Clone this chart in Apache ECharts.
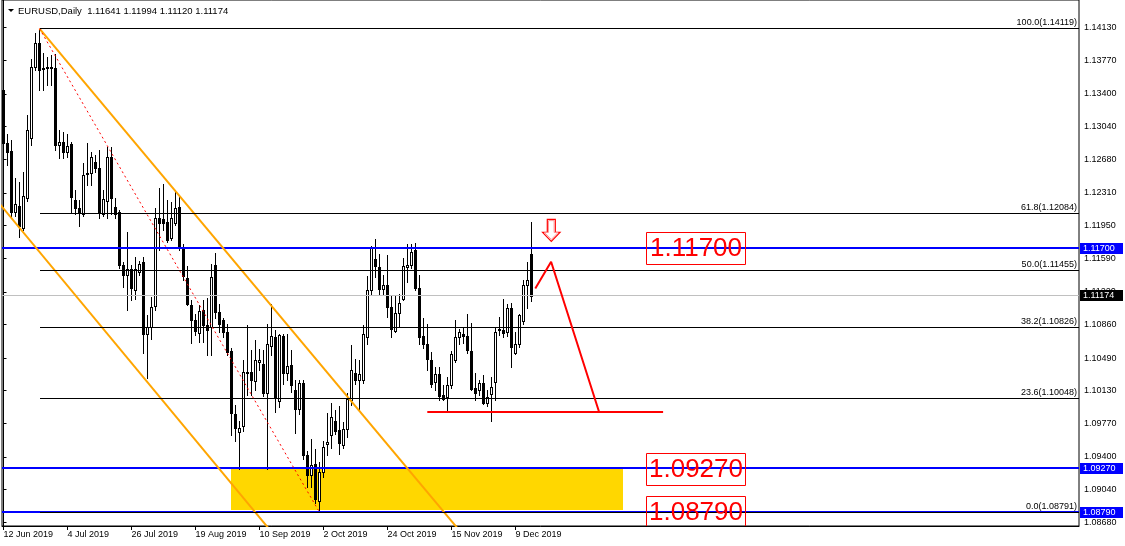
<!DOCTYPE html>
<html><head><meta charset="utf-8">
<script src="https://cdn.jsdelivr.net/npm/echarts@6/dist/echarts.min.js"></script>
<style>html,body{margin:0;padding:0;background:#fff}#c{width:1125px;height:546px}</style>
</head><body><div id="c"></div>
<script>
// ---- DATA (EURUSD daily, 12 Jun 2019 .. 13 Dec 2019, bar index 0..132) ----
const opens = [
1.1344,1.1286,1.1277,1.1210,1.1216,1.1192,1.1225,1.1291,1.1370,1.1396,
1.1368,1.1368,1.1370,1.1368,1.1284,1.1287,1.1276,1.1285,1.1223,1.1214,
1.1208,1.1252,1.1253,1.1265,1.1258,1.1208,1.1222,1.1271,1.1215,1.1210,
1.1151,1.1140,1.1147,1.1124,1.1144,1.1155,1.1076,1.1083,1.1106,1.1203,
1.1202,1.1199,1.1181,1.1198,1.1215,1.1171,1.1137,1.1107,1.1091,1.1077,
1.1102,1.1085,1.1083,1.1151,1.1100,1.1091,1.1078,1.1057,1.0987,1.0967,
1.0974,1.1034,1.1034,1.1024,1.1045,1.1042,1.1010,1.1062,1.1072,1.1002,
1.1073,1.1032,1.1041,1.1014,1.0993,1.1022,1.0942,1.0920,1.0932,1.0891,
1.0923,1.0954,1.0964,1.0980,1.0970,1.0953,1.0971,1.1003,1.1032,1.1025,
1.1025,1.1072,1.1124,1.1158,1.1149,1.1125,1.1130,1.1105,1.1079,1.1099,
1.1114,1.1149,1.1151,1.1168,1.1126,1.1073,1.1065,1.1047,1.1023,1.1031,
1.1008,1.1006,1.1019,1.1047,1.1072,1.1075,1.1073,1.1057,1.1016,1.1014,
1.1021,1.1000,1.1009,1.1023,1.1080,1.1080,1.1078,1.1104,1.1055,1.1064,
1.1090,1.1130,1.11641];
const highs = [
1.1350,1.1296,1.1289,1.1247,1.1243,1.1254,1.1317,1.1378,1.1407,1.14119,
1.1385,1.1381,1.1383,1.1384,1.1300,1.1298,1.1296,1.1287,1.1234,1.1223,
1.1264,1.1286,1.1276,1.1273,1.1278,1.1234,1.1282,1.1282,1.1225,1.1212,
1.1155,1.1188,1.1151,1.1160,1.1156,1.1160,1.1096,1.1116,1.1214,1.1236,
1.1241,1.1223,1.1221,1.1234,1.1229,1.1175,1.1150,1.1113,1.1098,1.1107,
1.1113,1.1115,1.1153,1.1165,1.1109,1.1093,1.1087,1.1060,1.0997,1.0980,
1.1047,1.1085,1.1058,1.1069,1.1059,1.1058,1.1087,1.1109,1.1080,1.1075,
1.1076,1.1075,1.1058,1.1025,1.1025,1.1025,1.0947,1.0960,1.0949,1.0934,
1.0958,1.0989,1.0999,1.0992,1.0996,1.0979,1.1010,1.1063,1.1048,1.1047,
1.1085,1.1139,1.1172,1.1180,1.1164,1.1140,1.1163,1.1118,1.1118,1.1120,
1.1159,1.1175,1.1175,1.1176,1.1140,1.1093,1.1087,1.1056,1.1039,1.1039,
1.1019,1.1028,1.1057,1.1091,1.1081,1.1083,1.1098,1.1088,1.1032,1.1025,
1.1030,1.1014,1.1028,1.1082,1.1094,1.1114,1.1108,1.1110,1.1078,1.1098,
1.1135,1.1155,1.11994];
const lows = [
1.1278,1.1262,1.1203,1.1205,1.1182,1.1190,1.1222,1.1284,1.1366,1.1344,
1.1344,1.1350,1.1350,1.1278,1.1269,1.1269,1.1270,1.1209,1.1208,1.1194,
1.1206,1.1240,1.1240,1.1254,1.1203,1.1205,1.1203,1.1208,1.1203,1.1148,
1.1127,1.1102,1.1113,1.1114,1.1140,1.1055,1.1027,1.1070,1.1102,1.1168,
1.1190,1.1177,1.1179,1.1196,1.1168,1.1135,1.1107,1.1066,1.1074,1.1067,
1.1067,1.1052,1.1052,1.1093,1.1078,1.1072,1.1052,1.0964,1.0958,1.0927,
1.0969,1.1008,1.1008,1.1014,1.1036,1.1007,1.0927,1.1052,1.0990,1.0995,
1.1020,1.1025,1.1012,1.0966,1.0987,1.0938,1.0907,1.0907,1.0889,1.0879,
1.0918,1.0942,1.0950,1.0965,1.0943,1.0950,1.0962,1.0997,1.1020,1.0991,
1.1021,1.1065,1.1118,1.1138,1.1118,1.1118,1.1094,1.1072,1.1078,1.1084,
1.1113,1.1133,1.1148,1.1124,1.1065,1.1060,1.1036,1.1017,1.1014,1.1003,
1.1003,1.0990,1.1016,1.1045,1.1064,1.1066,1.1055,1.1014,1.1003,1.1008,
1.0998,1.0996,1.0980,1.1003,1.1074,1.1072,1.1073,1.1039,1.1053,1.1061,
1.1087,1.1104,1.11120];
const closes = [
1.1286,1.1276,1.1210,1.1219,1.1194,1.1227,1.1300,1.1370,1.1396,1.1366,
1.1367,1.1370,1.1368,1.1284,1.1287,1.1276,1.1283,1.1226,1.1214,1.1209,
1.1251,1.1253,1.1271,1.1258,1.1210,1.1224,1.1271,1.1225,1.1208,1.1151,
1.1140,1.1147,1.1126,1.1147,1.1153,1.1075,1.1083,1.1105,1.1203,1.1198,
1.1198,1.1179,1.1203,1.1214,1.1170,1.1139,1.1109,1.1091,1.1079,1.1101,
1.1085,1.1080,1.1138,1.1100,1.1086,1.1078,1.1056,1.0988,1.0972,1.0972,
1.1034,1.1033,1.1025,1.1047,1.1047,1.1010,1.1064,1.1073,1.1005,1.1074,
1.1032,1.1040,1.1019,1.0993,1.1021,1.0942,1.0920,1.0931,1.0894,1.0923,
1.0951,1.0956,1.0984,1.0969,1.0955,1.0971,1.1004,1.1036,1.1025,1.1031,
1.1075,1.1124,1.1170,1.1150,1.1125,1.1130,1.1105,1.1081,1.1099,1.1110,
1.1150,1.1151,1.1166,1.1126,1.1072,1.1064,1.1048,1.1020,1.1031,1.1007,
1.1004,1.1019,1.1053,1.1072,1.1078,1.1073,1.1058,1.1015,1.1011,1.1022,
1.0999,1.1006,1.1017,1.1078,1.1081,1.1077,1.1104,1.1061,1.1064,1.1096,
1.1130,1.1135,1.11174];

const xTickBars = [0,16,32,48,64,80,96,112,128];
const xTickLabels = ['12 Jun 2019','4 Jul 2019','26 Jul 2019','19 Aug 2019','10 Sep 2019','2 Oct 2019','24 Oct 2019','15 Nov 2019','9 Dec 2019'];
const yTicks = [1.14130,1.13770,1.13400,1.13040,1.12680,1.12310,1.11950,1.11590,1.11220,1.10860,1.10490,1.10130,1.09770,1.09400,1.09040,1.08680];

const fibLevels = ['100.0','61.8','50.0','38.2','23.6','0.0'];
const fibPrices = [1.14119,1.12084,1.11455,1.10826,1.10048,1.08791];
const fibFromBar = 9;
const fibDiagonal = [[9,1.14119],[79,1.08791]];
const blueLevels = [1.11700,1.09270,1.08790];
const bidPrice = 1.11174;
const upperChannel = [[9,1.14119],[125,1.0801]];
const lowerChannel = [[-1,1.1219],[75,1.0815]];
const zoneBox = [[56.9,154.8,1.09270,1.08820]];
const supportLine = [[105.95,1.09896],[164.9,1.09896]];
const zigzag = [[132.95,1.11257],[136.9,1.11550],[148.9,1.09896]];
const arrowAt = [[136.95,1.12017]];
const bigLabelBar = 160.6;
const bigLabels = [1.11700,1.09270,1.08790];

// ---- CHART ----
const N = opens.length;
const XMIN = -0.375, XMAX = 268.875, YMIN = 1.08640, YMAX = 1.14434;
const FONT = 'Liberation Sans';
const candleData = opens.map((o,i)=>[i,o,closes[i],lows[i],highs[i]]);

function renderCandle(params, api){
  const i=api.value(0), o=api.value(1), c=api.value(2), l=api.value(3), h=api.value(4);
  const pO=api.coord([i,o]), pC=api.coord([i,c]), pL=api.coord([i,l]), pH=api.coord([i,h]);
  const x=Math.floor(pO[0]);
  const yT=Math.round(Math.min(pO[1],pC[1])), yB=Math.round(Math.max(pO[1],pC[1]));
  const yH=Math.round(pH[1]), yL=Math.round(pL[1]);
  const ch=[
    {type:'rect',shape:{x:x,y:yH,width:1,height:Math.max(1,yL-yH+1)},style:{fill:'#000'}},
    {type:'rect',shape:{x:x-1,y:yT,width:3,height:Math.max(1,yB-yT+1)},style:{fill:'#000'}}
  ];
  if(c>o && yB-yT>=2) ch.push({type:'rect',shape:{x:x,y:yT+1,width:1,height:yB-yT-1},style:{fill:'#fff'}});
  return {type:'group',children:ch};
}
function hLine(width,color){
  return function(params, api){
    const a=api.coord([api.value(0),api.value(2)]), b=api.coord([api.value(1),api.value(2)]);
    const y=Math.floor(a[1]) - (width>1?1:0);
    return {type:'rect',shape:{x:Math.round(a[0]),y:y,width:Math.round(b[0])-Math.round(a[0]),height:width},style:{fill:color}};
  };
}
function axisBox(bg){
  return function(params, api){
    const p=api.coord([XMAX,api.value(0)]);
    const y=Math.floor(p[1]);
    return {type:'group',children:[
      {type:'rect',shape:{x:p[0]+1,y:y-5,width:43,height:11},style:{fill:bg}},
      {type:'text',x:p[0]+4,y:y+0.5,style:{text:api.value(0).toFixed(5),fill:'#fff',font:'9px "'+FONT+'"',textAlign:'left',textVerticalAlign:'middle'}}
    ]};
  };
}
const lineSeries = (data,color,width,type,z)=>({type:'line',data:data,symbol:'none',silent:true,z:z||4,
  lineStyle:{color:color,width:width,type:type||'solid'},animation:false});

const option = {
  animation:false,
  backgroundColor:'#fff',
  title:{text:'EURUSD,Daily  '+opens[N-1].toFixed(5)+' '+highs[N-1].toFixed(5)+' '+lows[N-1].toFixed(5)+' '+closes[N-1].toFixed(5),
    left:18,top:6,padding:0,textStyle:{fontFamily:FONT,fontSize:9.5,fontWeight:'normal',color:'#000'}},
  graphic:[{type:'polygon',shape:{points:[[8,9],[14,9],[11,12]]},style:{fill:'#000'}}],
  grid:{left:2,right:46,top:0,bottom:20,show:true,borderColor:'#000',borderWidth:1},
  xAxis:{type:'value',min:XMIN,max:XMAX,
    axisLine:{show:true,lineStyle:{color:'#000',width:1}},
    axisTick:{show:true,customValues:xTickBars,length:4,lineStyle:{color:'#000'}},
    axisLabel:{customValues:xTickBars,formatter:v=>xTickLabels[xTickBars.indexOf(Math.round(v))]||'',
      align:'left',margin:4,fontFamily:FONT,fontSize:9,color:'#000'},
    splitLine:{show:false}},
  yAxis:{type:'value',position:'right',min:YMIN,max:YMAX,
    axisLine:{show:true,lineStyle:{color:'#000',width:1}},
    axisTick:{show:true,customValues:yTicks,length:3,lineStyle:{color:'#000'}},
    axisLabel:{customValues:yTicks,formatter:v=>v.toFixed(5),margin:5,fontFamily:FONT,fontSize:9,color:'#000'},
    splitLine:{show:false}},
  series:[
    {type:'custom',name:'zone',coordinateSystem:'cartesian2d',z:1,silent:true,data:zoneBox,
      encode:{x:[0,1],y:[2,3]},
      renderItem:(p,api)=>{const a=api.coord([api.value(0),api.value(2)]),b=api.coord([api.value(1),api.value(3)]);
        return {type:'rect',shape:{x:Math.round(a[0]),y:Math.round(a[1]),width:Math.round(b[0]-a[0]),height:Math.round(b[1]-a[1])},style:{fill:'#FFD700'}};}},
    {type:'custom',name:'EURUSD',coordinateSystem:'cartesian2d',z:3,silent:true,data:candleData,
      encode:{x:0,y:[3,4]},renderItem:renderCandle},
    {type:'custom',coordinateSystem:'cartesian2d',z:4,silent:true,data:[[XMIN,XMAX,bidPrice]],encode:{x:[0,1],y:2},renderItem:hLine(1,'#c0c0c0')},
    {type:'custom',coordinateSystem:'cartesian2d',z:4,silent:true,data:blueLevels.map(p=>[XMIN,XMAX,p]),encode:{x:[0,1],y:2},renderItem:hLine(2,'#0000ff')},
    {type:'custom',coordinateSystem:'cartesian2d',z:5,silent:true,data:fibPrices.map(p=>[fibFromBar,XMAX,p]),encode:{x:[0,1],y:2},renderItem:hLine(1,'#000')},
    {type:'custom',coordinateSystem:'cartesian2d',z:5,silent:true,data:fibPrices.map((p,i)=>[p,i]),encode:{y:0},
      renderItem:(params,api)=>{const pt=api.coord([XMAX,api.value(0)]);const i=api.value(1);
        return {type:'text',x:pt[0]-2,y:Math.floor(pt[1])-1,style:{text:fibLevels[i]+'('+fibPrices[i].toFixed(5)+')',fill:'#000',font:'9px "'+FONT+'"',textAlign:'right',textVerticalAlign:'bottom'}};}},
    lineSeries(upperChannel,'#FFA500',2,'solid',4),
    lineSeries(lowerChannel,'#FFA500',2,'solid',4),
    lineSeries(fibDiagonal,'#ff0000',1,[2,3],5),
    lineSeries(supportLine,'#ff0000',2,'solid',5),
    lineSeries(zigzag,'#ff0000',2,'solid',5),
    {type:'custom',coordinateSystem:'cartesian2d',z:6,silent:true,data:arrowAt,encode:{x:0,y:1},
      renderItem:(params,api)=>{const p=api.coord([api.value(0),api.value(1)]);const cx=p[0],ty=p[1];
        const pts=(s)=>[[cx-4+s,ty+s],[cx+4-s,ty+s],[cx+4-s,ty+13],[cx+8.7-s*1.6,ty+13],[cx,ty+22-s*1.6],[cx-8.7+s*1.6,ty+13],[cx-4+s,ty+13]];
        return {type:'group',children:[
          {type:'polygon',shape:{points:pts(0)},style:{fill:'#fff',stroke:'#ff0000',lineWidth:1.2}},
          {type:'polygon',shape:{points:pts(1.2)},style:{fill:'none',stroke:'#ff9a9a',lineWidth:1}}]};}},
    {type:'custom',coordinateSystem:'cartesian2d',z:6,silent:true,clip:true,data:bigLabels.map(p=>[bigLabelBar,p]),encode:{x:0,y:1},
      renderItem:(params,api)=>{const p=api.coord([api.value(0),api.value(1)]);const x=Math.round(p[0]),y=Math.round(p[1]);
        return {type:'group',children:[
          {type:'rect',shape:{x:x+0.5,y:y-15.5,width:99,height:32},style:{fill:'none',stroke:'#ff0000',lineWidth:1}},
          {type:'text',x:x+50,y:y+1,style:{text:api.value(1).toFixed(5),fill:'#ff0000',font:'26px "'+FONT+'"',textAlign:'center',textVerticalAlign:'middle'}}]};}},
    {type:'custom',coordinateSystem:'cartesian2d',z:8,silent:true,clip:false,data:blueLevels.map(p=>[p]),encode:{y:0},renderItem:axisBox('#0000ff')},
    {type:'custom',coordinateSystem:'cartesian2d',z:8,silent:true,clip:false,data:[[bidPrice]],encode:{y:0},renderItem:axisBox('#000000')}
  ]
};
const chart = echarts.init(document.getElementById('c'));
chart.setOption(option);
</script></body></html>
